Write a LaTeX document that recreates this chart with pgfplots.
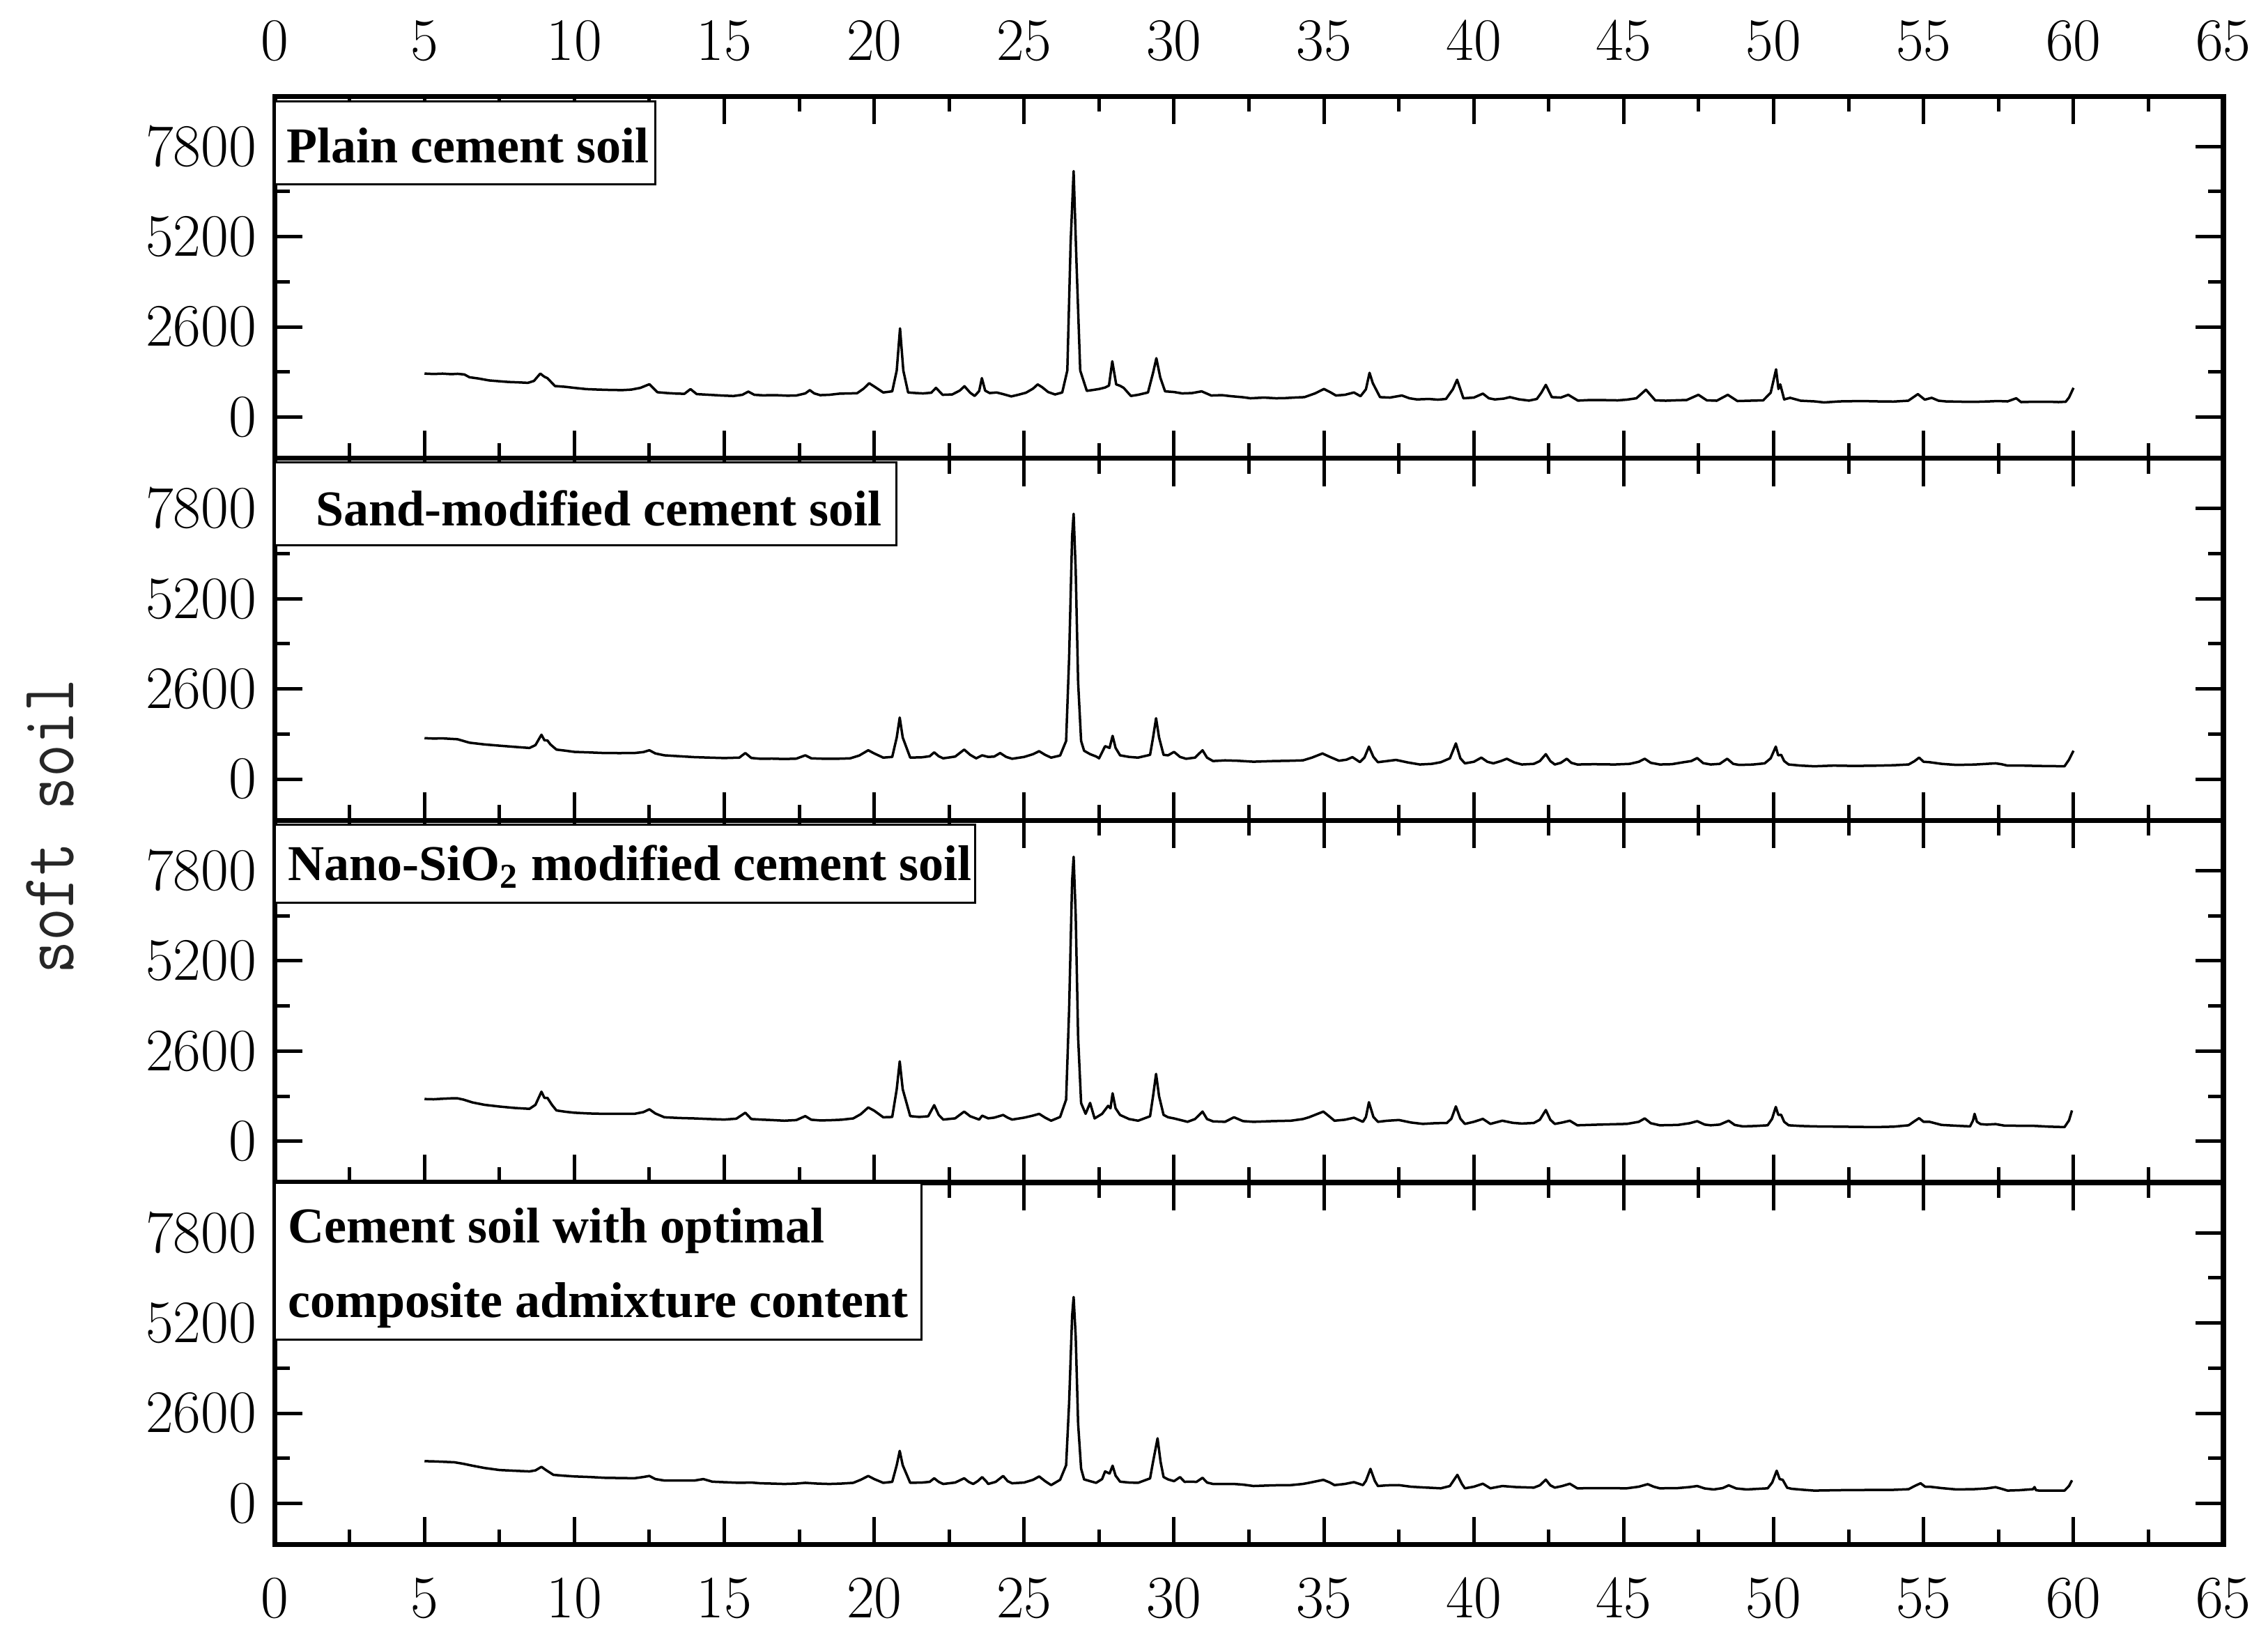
\documentclass[border=0pt]{standalone}
\usepackage{pgfplots}
\pgfplotsset{compat=1.18}
\usepackage{fontspec}
\usetikzlibrary{calc}
\newfontfamily\labfont{Liberation Serif}
\pgfplotsset{
  xrdpanel/.style={
    width=559.2pt, height=103.9pt, scale only axis,
    xmin=0, xmax=65, ymin=-1190, ymax=9250,
    xtick={0,5,...,65}, ytick={0,2600,5200,7800},
    minor x tick num=1, minor y tick num=1,
    tick align=inside, xtick pos=both, ytick pos=both,
    yticklabel pos=left,
    major tick length=8pt, minor tick length=4.4pt,
    every tick/.style={line width=1pt, black},
    axis line style={line width=1.4pt},
    tick label style={font=\fontsize{17}{18}\selectfont},
    scaled y ticks=false,
    yticklabel style={/pgf/number format/1000 sep={}, xshift=-1.7pt},
    clip=true,
  },
  xrdline/.style={black, line width=0.7pt, line join=round},
}
\begin{document}
\begin{tikzpicture}
\useasboundingbox (-78.8pt,-29.6pt) rectangle (572pt,443.2pt);

% ---------------- panel 1 ----------------
\begin{axis}[xrdpanel, name=p1, at={(0,311.7pt)}, anchor=south west,
  xticklabel pos=upper, xticklabel style={yshift=6.8pt}]
\addplot[xrdline] coordinates {
(5.0,1252)(5.3,1240)(5.6,1250)(5.9,1235)(6.1,1245)(6.33,1226)(6.5,1146)(6.8,1110)(7.15,1055)(7.5,1030)(7.8,1010)(8.1,1000)(8.45,985)(8.65,1040)(8.86,1252)(9.0,1160)(9.1,1120)(9.35,893)(9.7,870)(10.0,840)(10.4,804)(10.8,790)(11.2,780)(11.6,775)(11.9,790)(12.2,840)(12.5,945)(12.77,714)(13.1,690)(13.4,675)(13.67,669)(13.87,804)(14.08,660)(14.5,640)(14.9,620)(15.3,605)(15.6,640)(15.8,732)(16.0,640)(16.28,625)(16.7,630)(17.1,615)(17.4,620)(17.7,680)(17.85,774)(18.0,680)(18.2,630)(18.5,640)(18.85,674)(19.2,680)(19.43,687)(19.65,820)(19.83,974)(20.0,880)(20.3,707)(20.6,740)(20.75,1340)(20.86,2555)(20.97,1340)(21.13,707)(21.4,690)(21.63,680)(21.9,700)(22.06,840)(22.28,640)(22.6,650)(22.85,760)(23.01,887)(23.2,700)(23.35,607)(23.5,750)(23.59,1120)(23.7,760)(23.85,690)(24.08,707)(24.3,660)(24.57,594)(24.8,640)(25.06,700)(25.3,820)(25.45,940)(25.6,860)(25.8,720)(26.03,650)(26.27,707)(26.44,1340)(26.55,5009)(26.65,7090)(26.75,4342)(26.87,1340)(27.09,754)(27.3,780)(27.5,807)(27.7,850)(27.83,907)(27.94,1607)(28.07,940)(28.2,900)(28.32,840)(28.56,607)(28.8,640)(29.13,707)(29.3,1274)(29.41,1694)(29.54,1140)(29.7,740)(30.0,720)(30.27,680)(30.6,690)(30.92,740)(31.24,620)(31.6,630)(31.9,600)(32.3,570)(32.55,540)(33.0,560)(33.4,540)(33.7,545)(34.0,560)(34.35,573)(34.7,680)(35.0,807)(35.2,720)(35.4,620)(35.7,640)(36.0,707)(36.22,600)(36.4,800)(36.52,1274)(36.63,974)(36.87,573)(37.2,560)(37.6,620)(37.85,540)(38.1,507)(38.5,520)(38.8,500)(39.07,520)(39.3,800)(39.44,1074)(39.55,800)(39.65,540)(40.0,560)(40.3,674)(40.5,540)(40.7,507)(41.0,530)(41.2,573)(41.5,510)(41.84,473)(42.1,520)(42.25,700)(42.4,927)(42.6,573)(42.9,560)(43.15,640)(43.47,473)(43.9,490)(44.33,487)(44.8,480)(45.1,500)(45.42,540)(45.74,787)(46.05,480)(46.4,470)(46.7,480)(47.1,490)(47.49,640)(47.77,480)(48.1,470)(48.47,640)(48.79,460)(49.2,470)(49.65,480)(49.9,700)(50.08,1374)(50.16,807)(50.22,940)(50.35,507)(50.55,553)(50.9,470)(51.37,450)(51.68,420)(52.2,450)(52.93,460)(53.5,450)(54.0,445)(54.49,470)(54.81,660)(55.04,500)(55.27,553)(55.5,470)(55.74,450)(56.3,440)(56.84,440)(57.2,450)(57.47,460)(57.8,450)(58.09,540)(58.25,430)(58.7,440)(59.18,440)(59.5,430)(59.74,440)(59.85,560)(60.0,840)
};
\end{axis}

% ---------------- panel 2 ----------------
\begin{axis}[xrdpanel, name=p2, at={(0,207.8pt)}, anchor=south west,
  xticklabels={}]
\addplot[xrdline] coordinates {
(5.0,1181)(5.3,1170)(5.6,1175)(5.9,1160)(6.1,1150)(6.5,1050)(7.0,1000)(7.5,964)(8.0,930)(8.5,898)(8.7,980)(8.9,1280)(9.0,1120)(9.1,1115)(9.2,1000)(9.4,851)(9.7,820)(10.0,785)(10.5,770)(11.0,752)(11.5,750)(12.0,752)(12.3,780)(12.5,832)(12.7,740)(13.0,686)(13.5,660)(14.0,634)(14.5,620)(15.0,607)(15.5,620)(15.7,752)(15.9,610)(16.2,587)(16.6,590)(17.0,580)(17.4,590)(17.7,686)(17.9,600)(18.2,590)(18.5,587)(18.9,590)(19.2,600)(19.5,680)(19.8,832)(20.0,740)(20.3,620)(20.6,640)(20.75,1200)(20.85,1775)(20.95,1200)(21.2,620)(21.6,630)(21.85,660)(22.0,772)(22.15,660)(22.3,600)(22.7,650)(23.0,851)(23.2,700)(23.4,600)(23.6,686)(23.8,640)(24.0,650)(24.2,752)(24.4,640)(24.6,587)(25.0,640)(25.3,720)(25.5,805)(25.7,700)(25.9,620)(26.2,680)(26.4,1100)(26.5,3500)(26.6,7000)(26.65,7650)(26.72,6000)(26.8,2800)(26.9,1100)(27.0,818)(27.2,720)(27.4,653)(27.5,600)(27.7,950)(27.85,900)(27.95,1247)(28.05,900)(28.2,686)(28.5,640)(28.8,620)(29.2,700)(29.3,1200)(29.4,1755)(29.5,1200)(29.65,700)(29.8,686)(30.0,785)(30.2,640)(30.4,587)(30.7,620)(30.95,832)(31.1,620)(31.3,521)(31.7,540)(32.1,530)(32.65,502)(33.3,520)(33.9,530)(34.3,541)(34.6,620)(34.95,739)(35.2,640)(35.5,530)(35.75,560)(35.95,634)(36.2,490)(36.35,620)(36.5,937)(36.65,640)(36.8,488)(37.1,520)(37.4,554)(37.8,480)(38.2,422)(38.6,440)(38.9,488)(39.2,600)(39.4,1030)(39.55,600)(39.7,455)(40.0,500)(40.25,620)(40.45,500)(40.65,455)(40.9,520)(41.1,587)(41.35,480)(41.6,422)(42.0,440)(42.2,520)(42.4,719)(42.55,520)(42.7,422)(42.9,470)(43.1,587)(43.25,470)(43.45,422)(44.0,430)(44.7,422)(45.2,440)(45.5,500)(45.7,587)(45.9,470)(46.2,422)(46.6,430)(47.0,488)(47.25,520)(47.45,607)(47.65,460)(47.9,422)(48.2,440)(48.45,587)(48.65,440)(48.85,409)(49.3,420)(49.7,455)(49.9,600)(50.07,937)(50.15,686)(50.25,700)(50.35,520)(50.5,422)(50.9,390)(51.35,370)(52.0,390)(52.7,380)(53.45,389)(54.0,400)(54.5,422)(54.7,520)(54.85,620)(55.0,500)(55.2,488)(55.6,440)(56.1,409)(56.7,420)(57.1,440)(57.4,455)(57.6,430)(57.8,389)(58.3,390)(58.8,380)(59.3,375)(59.7,370)(59.85,560)(60.0,818)
};
\end{axis}

% ---------------- panel 3 ----------------
\begin{axis}[xrdpanel, name=p3, at={(0,103.9pt)}, anchor=south west,
  xticklabels={}]
\addplot[xrdline] coordinates {
(5.0,1217)(5.3,1210)(5.6,1225)(5.9,1237)(6.1,1237)(6.3,1200)(6.6,1119)(7.0,1050)(7.5,1000)(8.0,960)(8.5,934)(8.7,1050)(8.9,1428)(9.0,1250)(9.1,1250)(9.25,1050)(9.4,888)(9.7,850)(10.0,822)(10.5,800)(11.0,790)(11.5,790)(12.0,790)(12.3,840)(12.5,921)(12.7,800)(13.0,691)(13.5,670)(14.0,658)(14.5,640)(15.0,625)(15.4,650)(15.7,822)(15.9,640)(16.2,625)(16.6,610)(17.0,592)(17.4,610)(17.7,724)(17.9,620)(18.2,600)(18.5,605)(18.9,620)(19.3,658)(19.55,780)(19.8,974)(20.0,880)(20.3,691)(20.6,700)(20.75,1500)(20.85,2303)(20.95,1500)(21.2,724)(21.5,700)(21.8,720)(22.0,1040)(22.15,760)(22.3,625)(22.7,660)(23.0,855)(23.2,720)(23.5,625)(23.6,737)(23.8,660)(24.0,680)(24.3,757)(24.45,680)(24.6,625)(25.0,680)(25.3,740)(25.5,790)(25.7,680)(25.9,592)(26.2,700)(26.4,1200)(26.5,3800)(26.6,7500)(26.65,8200)(26.72,6500)(26.8,3000)(26.9,1100)(27.05,790)(27.2,1105)(27.35,658)(27.6,790)(27.8,1020)(27.88,950)(27.95,1382)(28.05,950)(28.2,757)(28.5,640)(28.8,592)(29.2,720)(29.3,1300)(29.4,1941)(29.5,1300)(29.65,760)(29.8,691)(30.0,658)(30.45,560)(30.7,640)(30.95,855)(31.1,640)(31.3,573)(31.7,560)(32.0,691)(32.3,580)(32.65,560)(33.3,580)(33.9,592)(34.3,640)(34.5,691)(34.98,855)(35.2,700)(35.35,592)(35.7,620)(36.0,678)(36.3,560)(36.4,700)(36.5,1125)(36.65,700)(36.8,560)(37.1,590)(37.5,612)(37.9,540)(38.3,500)(38.7,520)(39.1,527)(39.25,650)(39.4,1007)(39.55,650)(39.7,500)(40.0,560)(40.3,645)(40.55,500)(40.95,592)(41.3,530)(41.6,510)(42.0,527)(42.2,620)(42.4,900)(42.55,620)(42.7,500)(42.95,540)(43.2,592)(43.45,460)(44.2,480)(45.1,500)(45.5,560)(45.7,658)(45.9,520)(46.2,460)(46.8,470)(47.2,520)(47.45,579)(47.7,480)(47.9,460)(48.2,480)(48.5,592)(48.7,470)(48.97,428)(49.4,440)(49.8,460)(49.95,650)(50.07,987)(50.15,763)(50.25,760)(50.35,560)(50.5,460)(50.9,440)(51.35,428)(52.2,420)(53.4,408)(54.0,420)(54.5,460)(54.7,580)(54.85,665)(55.0,560)(55.2,560)(55.6,470)(56.1,447)(56.55,428)(56.65,600)(56.7,790)(56.78,560)(56.9,494)(57.1,480)(57.4,494)(57.7,450)(58.1,447)(58.6,447)(59.2,420)(59.7,408)(59.85,600)(59.95,888)
};
\end{axis}

% ---------------- panel 4 ----------------
\begin{axis}[xrdpanel, name=p4, at={(0,0)}, anchor=south west,
  xticklabel style={yshift=-6.2pt}]
\addplot[xrdline] coordinates {
(5.0,1217)(5.3,1210)(5.6,1200)(6.0,1184)(6.3,1140)(6.6,1086)(7.0,1020)(7.5,961)(8.0,940)(8.5,921)(8.7,950)(8.9,1053)(9.05,960)(9.3,822)(9.6,800)(10.0,776)(10.5,760)(11.0,737)(11.5,730)(12.0,724)(12.3,760)(12.5,790)(12.7,700)(13.0,658)(13.5,660)(14.0,658)(14.3,700)(14.6,625)(15.0,610)(15.5,592)(15.9,600)(16.2,579)(16.6,570)(17.0,559)(17.4,570)(17.7,592)(18.1,570)(18.5,559)(18.9,570)(19.3,592)(19.55,680)(19.8,790)(20.0,700)(20.3,592)(20.6,620)(20.75,1100)(20.85,1513)(20.95,1100)(21.2,592)(21.6,600)(21.85,620)(22.0,724)(22.15,620)(22.3,559)(22.7,600)(23.0,724)(23.15,620)(23.3,559)(23.45,640)(23.6,757)(23.75,620)(23.8,559)(24.05,620)(24.3,790)(24.45,640)(24.6,579)(25.0,600)(25.3,680)(25.5,776)(25.7,640)(25.9,526)(26.2,680)(26.4,1100)(26.5,2900)(26.6,5400)(26.65,5950)(26.72,4800)(26.8,2300)(26.9,1000)(27.0,691)(27.2,640)(27.4,592)(27.6,700)(27.7,921)(27.85,860)(27.95,1086)(28.05,800)(28.2,625)(28.5,600)(28.8,592)(29.2,720)(29.3,1200)(29.45,1875)(29.55,1200)(29.65,760)(29.8,691)(30.0,640)(30.2,757)(30.35,620)(30.5,625)(30.75,620)(30.95,737)(31.1,600)(31.3,559)(31.7,560)(32.0,559)(32.3,540)(32.65,500)(33.3,520)(33.9,526)(34.3,560)(34.5,592)(34.98,678)(35.2,600)(35.35,526)(35.7,560)(36.0,612)(36.3,526)(36.4,650)(36.55,994)(36.7,640)(36.8,500)(37.1,520)(37.5,526)(37.9,480)(38.3,460)(38.9,434)(39.2,500)(39.45,822)(39.6,560)(39.7,434)(40.0,480)(40.3,566)(40.55,434)(40.95,500)(41.4,470)(42.0,454)(42.2,520)(42.4,684)(42.55,520)(42.7,454)(42.95,500)(43.2,566)(43.45,434)(44.2,440)(45.1,434)(45.5,480)(45.8,553)(46.0,480)(46.2,434)(46.8,440)(47.2,470)(47.45,500)(47.7,430)(48.0,401)(48.3,440)(48.5,520)(48.75,430)(49.1,401)(49.5,420)(49.8,434)(49.95,600)(50.1,941)(50.2,700)(50.3,680)(50.45,450)(50.6,420)(51.0,390)(51.35,368)(52.2,380)(53.45,388)(54.0,390)(54.5,408)(54.7,500)(54.9,579)(55.05,480)(55.2,480)(55.6,440)(56.1,401)(56.7,410)(57.1,430)(57.4,467)(57.6,420)(57.8,368)(58.2,380)(58.65,408)(58.7,470)(58.75,380)(58.85,368)(59.3,370)(59.7,368)(59.85,500)(59.95,665)
};
\end{axis}

% ---------------- panel labels ----------------
\tikzset{labbox/.style={draw=black, line width=0.6pt, fill=white},
         labtext/.style={anchor=base west, inner sep=0pt,
           font=\labfont\bfseries\fontsize{14.4}{17}\selectfont}}
\draw[labbox] ($(p1.north west)+(0,-1.4pt)$) rectangle ($(p1.north west)+(109.2pt,-25.2pt)$);
\node[labtext] at ($(p1.north west)+(3.2pt,-19pt)$) {Plain cement soil};
\draw[labbox] ($(p2.north west)+(0,-1.2pt)$) rectangle ($(p2.north west)+(178.4pt,-25pt)$);
\node[labtext] at ($(p2.north west)+(11.6pt,-19.4pt)$) {Sand-modified cement soil};
\draw[labbox] ($(p3.north west)+(0,-1.2pt)$) rectangle ($(p3.north west)+(201pt,-23.6pt)$);
\node[labtext] at ($(p3.north west)+(3.6pt,-17.2pt)$) {Nano-SiO\textsubscript{2} modified cement soil};
\draw[labbox] ($(p4.north west)+(0,0)$) rectangle ($(p4.north west)+(185.6pt,-45pt)$);
\node[labtext] at ($(p4.north west)+(3.6pt,-17.2pt)$) {Cement soil with optimal};
\node[labtext] at ($(p4.north west)+(3.6pt,-38.6pt)$) {composite admixture content};

% ---------------- y label ----------------
\node[rotate=90, anchor=base, inner sep=0pt, text=black!85] at (-57.8pt,206pt)
  {\scalebox{1}[1.2]{\fontsize{18.25}{20}\ttfamily soft soil}};
\end{tikzpicture}
\end{document}
